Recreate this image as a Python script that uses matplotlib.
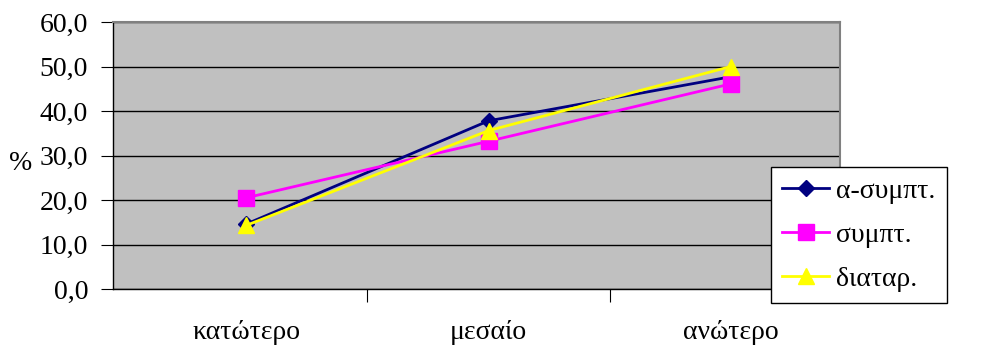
import matplotlib
matplotlib.use('Agg')
import matplotlib.pyplot as plt
from matplotlib.ticker import FuncFormatter

categories = ['κατώτερο', 'μεσαίο', 'ανώτερο']
a_sympt = [14.6, 37.8, 47.7]
sympt = [20.5, 33.2, 46.1]
diatar = [14.3, 35.6, 50.0]
series_labels = ['α-συμπτ.', 'συμπτ.', 'διαταρ.']

plt.rcParams['font.family'] = ['Liberation Serif', 'DejaVu Serif']

fig = plt.figure(figsize=(9.96, 3.47), dpi=100)
ax = fig.add_axes([113 / 996, 1 - 289 / 347, (840 - 113) / 996, (289 - 22) / 347])
ax.set_facecolor('#C0C0C0')

x = range(len(categories))
ax.plot(x, a_sympt, color='#000080', marker='D', markersize=8, linewidth=2, label=series_labels[0], zorder=3)
ax.plot(x, sympt, color='#FF00FF', marker='s', markersize=11, linewidth=2, label=series_labels[1], zorder=3)
ax.plot(x, diatar, color='#FFFF00', marker='^', markersize=12, linewidth=2, label=series_labels[2], zorder=4)

ax.set_ylim(0, 60)
ax.set_yticks(range(0, 61, 10))
ax.yaxis.set_major_formatter(FuncFormatter(lambda v, p: f'{v:.1f}'.replace('.', ',')))
ax.set_xlim(-0.55, 2.45)
ax.set_xticks([0.5, 1.5, 2.45])
ax.set_xticklabels([])
for i, c in enumerate(categories):
    ax.text(i, -9.8, c, ha='center', va='center', fontsize=20)

ax.grid(axis='y', color='black', linewidth=1)
ax.set_axisbelow(True)
for s in ['top', 'right']:
    ax.spines[s].set_color('#808080')
    ax.spines[s].set_linewidth(1.5)
for s in ['left', 'bottom']:
    ax.spines[s].set_color('black')
    ax.spines[s].set_linewidth(1)
ax.tick_params(axis='y', direction='out', length=9, labelsize=20, pad=9)
ax.tick_params(axis='x', direction='out', length=9)
ax.set_ylabel('%', fontsize=20, rotation=0, va='center', ha='center')
ax.yaxis.set_label_coords(-0.127, 0.47)

leg = ax.legend(loc='upper left', bbox_to_anchor=(771 / 996, 1 - 167 / 347), bbox_transform=fig.transFigure,
                fontsize=20, frameon=True, fancybox=False, edgecolor='black', framealpha=1,
                handlelength=1.7, handletextpad=0.25, borderpad=0.4, labelspacing=0.68, borderaxespad=0)
leg.get_frame().set_linewidth(1)

fig.savefig('out.png', dpi=100)
